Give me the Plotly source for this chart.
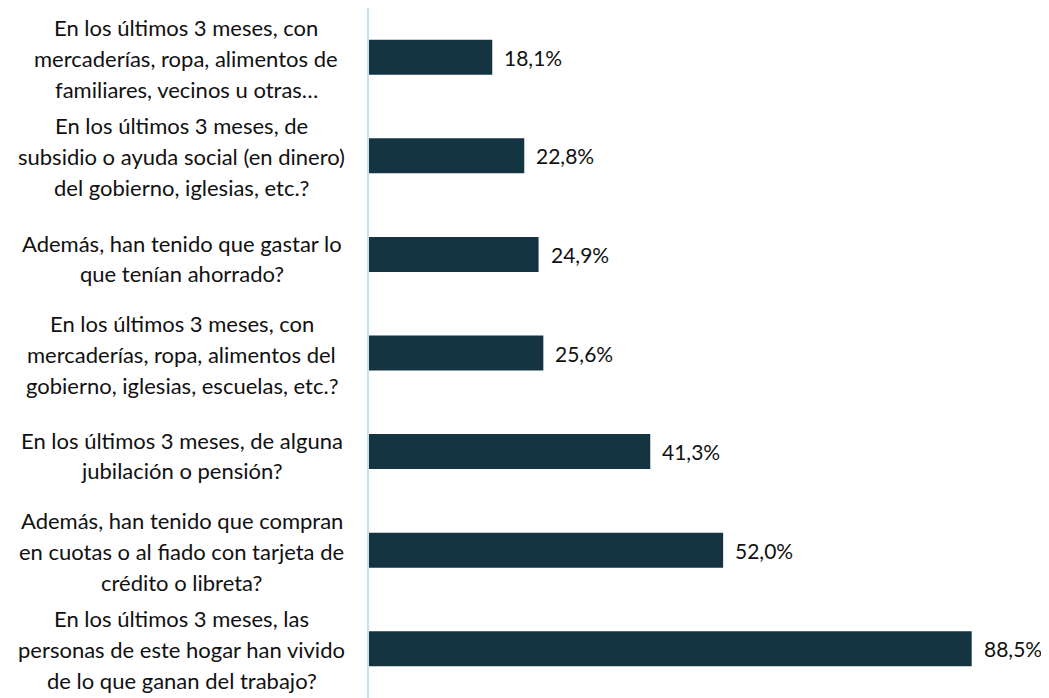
import plotly.graph_objects as go

categories = [
    "En los últimos 3 meses, con\nmercaderías, ropa, alimentos de\nfamiliares, vecinos u otras…",
    "En los últimos 3 meses, de\nsubsidio o ayuda social (en dinero)\ndel gobierno, iglesias, etc.?",
    "Además, han tenido que gastar lo\nque tenían ahorrado?",
    "En los últimos 3 meses, con\nmercaderías, ropa, alimentos del\ngobierno, iglesias, escuelas, etc.?",
    "En los últimos 3 meses, de alguna\njubilación o pensión?",
    "Además, han tenido que compran\nen cuotas o al fiado con tarjeta de\ncrédito o libreta?",
    "En los últimos 3 meses, las\npersonas de este hogar han vivido\nde lo que ganan del trabajo?",
]
values = [18.1, 22.8, 24.9, 25.6, 41.3, 52.0, 88.5]
value_labels = ["18,1%", "22,8%", "24,9%", "25,6%", "41,3%", "52,0%", "88,5%"]

BAR_COLOR = "#153441"
TEXT_COLOR = "#111111"
AXIS_COLOR = "#c6e2f0"
FONT = "Lato, 'Open Sans', sans-serif"
FS_CAT = 22
FS_VAL = 21

OFF = 8  # default page body margin
W, H = 1041, 690
ML, MR, MT, MB = 361, 0, 0, 0
plot_w = W - ML - MR
X_MAX = 99.85

ids = [f"c{i}" for i in range(len(categories))]

fig = go.Figure(go.Bar(
    x=values, y=ids, orientation="h",
    marker=dict(color=BAR_COLOR, line=dict(width=0)),
    hoverinfo="skip",
))

annotations = []
for i, (cid, cat) in enumerate(zip(ids, categories)):
    lines = cat.split("\n")
    if len(lines) == 3:
        shifts = [30, -1, -32]
    else:
        shifts = [11, -19]
    cx_page = 186 if i == 0 else 182
    xpaper = (cx_page - (OFF + ML)) / plot_w
    for ln, sh in zip(lines, shifts):
        annotations.append(dict(
            x=xpaper, xref="paper", y=cid, yref="y",
            text=ln, showarrow=False, xanchor="center", yanchor="middle",
            yshift=sh, font=dict(family=FONT, size=FS_CAT, color=TEXT_COLOR),
        ))

for cid, v, lab in zip(ids, values, value_labels):
    annotations.append(dict(
        x=v, xref="x", y=cid, yref="y", text=lab, showarrow=False,
        xanchor="left", yanchor="middle", xshift=10,
        font=dict(family=FONT, size=FS_VAL, color=TEXT_COLOR),
    ))

fig.update_layout(
    width=W, height=H,
    margin=dict(l=ML, r=MR, t=MT, b=MB, autoexpand=False),
    paper_bgcolor="white", plot_bgcolor="white",
    showlegend=False,
    bargap=0.645,
    xaxis=dict(range=[0, X_MAX], visible=False, fixedrange=True),
    yaxis=dict(
        categoryorder="array", categoryarray=ids, autorange="reversed",
        showticklabels=False, showgrid=False, zeroline=False,
        showline=True, linecolor=AXIS_COLOR, linewidth=2, ticks="",
    ),
    annotations=annotations,
    font=dict(family=FONT, color=TEXT_COLOR),
)

fig.write_html("out.html")
